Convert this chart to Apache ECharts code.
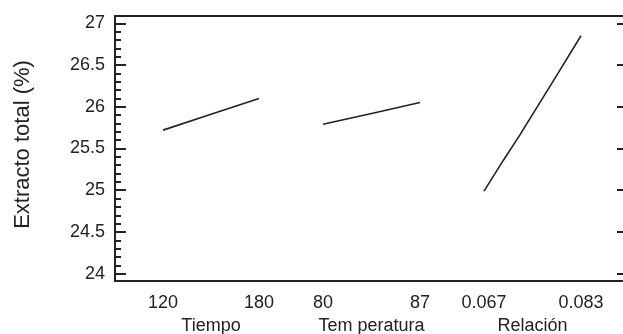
<!DOCTYPE html>
<html><head><meta charset="utf-8">
<script src="https://cdn.jsdelivr.net/npm/echarts@6/dist/echarts.min.js"></script>
<style>html,body{margin:0;padding:0;background:#fff}#c{width:623px;height:334px}</style>
</head><body><div id="c"></div>
<script>
// Data
const factorNames = ['Tiempo', 'Tem peratura', 'Relación'];
const tiempoTicks = [120, 180];
const tempTicks = [80, 87];
const relTicks = [0.067, 0.083];
const relTickLabels = ['0.067', '0.083'];
const tiempoData = [[120, 25.72], [150, 25.91], [180, 26.10]];
const tempData = [[80, 25.79], [83.5, 25.92], [87, 26.05]];
const relData = [[0.067, 24.99], [0.0702, 25.36], [0.0729, 25.66], [0.0792, 26.40], [0.083, 26.85]];
const yMajor = [24, 24.5, 25, 25.5, 26, 26.5, 27];
const yMinor = [24, 24.1, 24.2, 24.3, 24.4, 24.5, 24.6, 24.7, 24.8, 24.9, 25, 25.1, 25.2, 25.3, 25.4, 25.5, 25.6, 25.7, 25.8, 25.9, 26, 26.1, 26.2, 26.3, 26.4, 26.5, 26.6, 26.7, 26.8, 26.9, 27];
const yMin = 23.913, yMax = 27.087;
const yTitle = 'Extracto total (%)';

const FONT = 'Liberation Sans';
const TXT = '#222';
const chart = echarts.init(document.getElementById('c'));
const gTop = 16, gBottom = 53;
const hiddenY = (g) => ({ gridIndex: g, type: 'value', min: yMin, max: yMax, show: false });
const segX = (g, mn, mx, ticks, labels, name) => ({
  gridIndex: g, type: 'value', min: mn, max: mx, position: 'bottom',
  axisLine: { show: false }, axisTick: { show: false }, splitLine: { show: false },
  axisLabel: { customValues: ticks, margin: 13, color: TXT, fontFamily: FONT, fontSize: 18,
    formatter: (v) => { const i = ticks.indexOf(v); return labels ? labels[i] : String(v); } },
  name: name, nameLocation: 'middle', nameGap: 31,
  nameTextStyle: { color: TXT, fontFamily: FONT, fontSize: 18 }
});
const mkGrid = (o) => Object.assign({ top: gTop, bottom: gBottom, outerBoundsMode: 'none', containLabel: false }, o);
chart.setOption({
  animation: false,
  grid: [
    mkGrid({ left: 115, right: 0 }),
    mkGrid({ left: 163, width: 96 }),
    mkGrid({ left: 323, width: 97 }),
    mkGrid({ left: 484, width: 97 })
  ],
  xAxis: [
    { gridIndex: 0, type: 'value', min: 0, max: 1, position: 'bottom',
      axisLine: { show: true, lineStyle: { color: '#222', width: 2 } },
      axisTick: { show: false }, axisLabel: { show: false }, splitLine: { show: false } },
    { gridIndex: 0, type: 'value', min: 0, max: 1, position: 'top',
      axisLine: { show: true, lineStyle: { color: '#222', width: 2 } },
      axisTick: { show: false }, axisLabel: { show: false }, splitLine: { show: false } },
    segX(1, tiempoTicks[0], tiempoTicks[1], tiempoTicks, null, factorNames[0]),
    segX(2, tempTicks[0], tempTicks[1], tempTicks, null, factorNames[1]),
    segX(3, relTicks[0], relTicks[1], relTicks, relTickLabels, factorNames[2])
  ],
  yAxis: [
    { gridIndex: 0, type: 'value', min: yMin, max: yMax, position: 'left',
      axisLine: { show: true, lineStyle: { color: '#222', width: 2 } },
      axisTick: { show: true, inside: true, length: 11, customValues: yMajor, lineStyle: { color: '#222', width: 2 } },
      axisLabel: { customValues: yMajor, margin: 10, color: TXT, fontFamily: FONT, fontSize: 18,
        formatter: (v) => String(v) },
      splitLine: { show: false },
      name: yTitle, nameLocation: 'middle', nameGap: 81, nameRotate: 90,
      nameTextStyle: { color: TXT, fontFamily: FONT, fontSize: 22, padding: [0, 0, 0, 8] } },
    { gridIndex: 0, type: 'value', min: yMin, max: yMax, position: 'left',
      axisLine: { show: false },
      axisTick: { show: true, inside: true, length: 6, customValues: yMinor, lineStyle: { color: '#222', width: 2 } },
      axisLabel: { show: false }, splitLine: { show: false } },
    { gridIndex: 0, type: 'value', min: yMin, max: yMax, position: 'right',
      axisLine: { show: false },
      axisTick: { show: true, inside: true, length: 6, customValues: yMajor, lineStyle: { color: '#222', width: 2 } },
      axisLabel: { show: false }, splitLine: { show: false } },
    hiddenY(1), hiddenY(2), hiddenY(3)
  ],
  series: [
    { type: 'line', xAxisIndex: 2, yAxisIndex: 3, data: tiempoData, showSymbol: false, lineStyle: { color: '#222', width: 1.6 } },
    { type: 'line', xAxisIndex: 3, yAxisIndex: 4, data: tempData, showSymbol: false, lineStyle: { color: '#222', width: 1.6 } },
    { type: 'line', xAxisIndex: 4, yAxisIndex: 5, data: relData, showSymbol: false, lineStyle: { color: '#222', width: 1.6 } }
  ]
});
</script></body></html>
